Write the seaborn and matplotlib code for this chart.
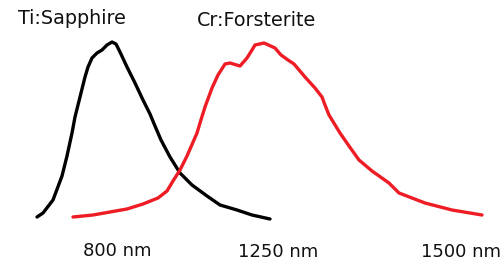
import pandas as pd
import seaborn as sns
import matplotlib.pyplot as plt

# emission curves (x, y in picture units, y grows downward)
ti_x = [37, 43, 53, 62, 67, 72, 75, 80, 85, 88, 92, 97, 102, 107, 112, 116, 120, 127, 135, 143, 150, 155,
        161, 170, 180, 192, 207, 220, 237, 252, 270]
ti_y = [217, 213, 200, 176, 156, 133, 117, 97, 77, 67, 58, 53, 50, 45, 42, 44, 52, 67, 83, 100, 114, 126,
        140, 157, 173, 185, 196, 205, 210, 215, 219]

cr_x = [73, 93, 110, 127, 143, 158, 167, 173, 180, 187, 197, 200, 205, 212, 218, 225, 230, 240, 247, 252,
        255, 264, 275, 281, 288, 294, 305, 315, 322, 325, 329, 340, 349, 359, 372, 389, 399, 425, 452, 482]
cr_y = [217, 215, 212, 209, 204, 198, 191, 181, 170, 156, 133, 123, 107, 88, 75, 64, 63, 66, 58, 50,
        45, 43, 48, 55, 60, 64, 77, 88, 97, 105, 115, 133, 146, 160, 171, 183, 193, 203, 210, 215]

crystal_names = ['Ti:Sapphire', 'Cr:Forsterite']
wavelength_labels = ['800 nm', '1250 nm', '1500 nm']

ti = pd.DataFrame({'x': ti_x, 'y': ti_y})
cr = pd.DataFrame({'x': cr_x, 'y': cr_y})

fig = plt.figure(figsize=(5.04, 2.67), dpi=100)
ax = fig.add_axes([0, 0, 1, 1])

sns.lineplot(data=ti, x='x', y='y', color='black', linewidth=2.4, ax=ax)
sns.lineplot(data=cr, x='x', y='y', color='#ee1c24', linewidth=2.4, ax=ax)
for line in ax.lines:
    line.set_solid_joinstyle('round')
    line.set_solid_capstyle('round')

ax.set_xlim(0, 504)
ax.set_ylim(267, 0)
ax.axis('off')

for name, (tx, ty) in zip(crystal_names, [(72, 18), (257, 20)]):
    ax.text(tx, ty, name, ha='center', va='center', fontsize=13.8, color='#111111')

for lab, (tx, ty) in zip(wavelength_labels, [(117, 251), (278, 252), (461, 252)]):
    ax.text(tx, ty, lab, ha='center', va='center', fontsize=13, color='#111111')

plt.savefig('out.png', dpi=100)
